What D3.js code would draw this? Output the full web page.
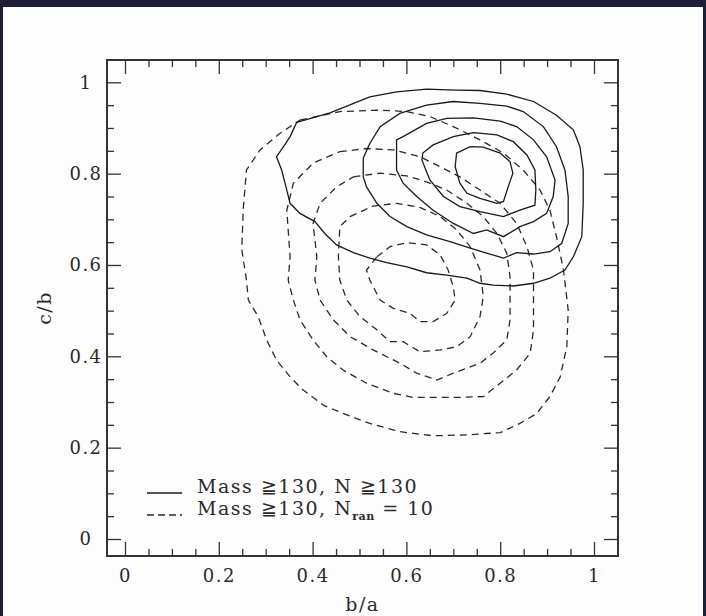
<!DOCTYPE html>
<html>
<head>
<meta charset="utf-8">
<script src="https://cdn.jsdelivr.net/npm/d3@7"></script>
<style>
	html, body { margin: 0; padding: 0; background: #1d1e38; }
	svg { display: block; }
	.axis text { font-family: 'DejaVu Serif', serif; font-size: 18px; letter-spacing: 1.5px; fill: #2a2a2a; }
	.axis line { stroke: #333; stroke-width: 1.3; }
	.axis path { display: none; }
	.solid { fill: none; stroke: #1a1a1a; stroke-width: 1.3; }
	.dashed { fill: none; stroke: #2a2a2a; stroke-width: 1.3; stroke-dasharray: 7,5; }
	.label { font-family: 'DejaVu Serif', serif; font-size: 19px; letter-spacing: 1.5px; fill: #2a2a2a; }
</style>
</head>
<body>
<svg width="706" height="616"></svg>
<script>
// x ticks / y ticks
const majorTicks = [0, 0.2, 0.4, 0.6, 0.8, 1];
const minorTicks = [0.05, 0.1, 0.15, 0.25, 0.3, 0.35, 0.45, 0.5, 0.55, 0.65, 0.7, 0.75, 0.85, 0.9, 0.95];
const tickLabels = ['0', '0.2', '0.4', '0.6', '0.8', '1'];

// Mass >= 130, N >= 130 (solid), outer -> inner, [b/a, c/b]
const solid1 = [[0.366, 0.912], [0.437, 0.933], [0.522, 0.968], [0.579, 0.979], [0.643, 0.985], [0.707, 0.983], [0.757, 0.982], [0.814, 0.974], [0.871, 0.958], [0.920, 0.928], [0.956, 0.896], [0.970, 0.859], [0.977, 0.808], [0.977, 0.735], [0.974, 0.662], [0.956, 0.618], [0.938, 0.589], [0.906, 0.571], [0.871, 0.560], [0.828, 0.554], [0.785, 0.556], [0.757, 0.560], [0.729, 0.571], [0.686, 0.578], [0.643, 0.583], [0.601, 0.596], [0.558, 0.605], [0.522, 0.615], [0.487, 0.627], [0.451, 0.644], [0.426, 0.669], [0.405, 0.695], [0.373, 0.713], [0.352, 0.735], [0.345, 0.764], [0.334, 0.808], [0.323, 0.837], [0.338, 0.859], [0.352, 0.881]];
const solid2 = [[0.508, 0.793], [0.508, 0.834], [0.522, 0.866], [0.544, 0.903], [0.586, 0.932], [0.643, 0.950], [0.700, 0.958], [0.757, 0.954], [0.814, 0.948], [0.849, 0.936], [0.892, 0.903], [0.920, 0.859], [0.938, 0.808], [0.945, 0.750], [0.945, 0.691], [0.931, 0.647], [0.906, 0.629], [0.871, 0.624], [0.835, 0.627], [0.807, 0.615], [0.771, 0.626], [0.736, 0.637], [0.693, 0.651], [0.643, 0.666], [0.601, 0.684], [0.565, 0.706], [0.537, 0.735], [0.515, 0.771]];
const solid3 = [[0.579, 0.808], [0.579, 0.874], [0.593, 0.881], [0.643, 0.910], [0.686, 0.921], [0.743, 0.922], [0.800, 0.915], [0.835, 0.903], [0.871, 0.874], [0.899, 0.837], [0.917, 0.786], [0.913, 0.750], [0.899, 0.713], [0.871, 0.695], [0.842, 0.684], [0.807, 0.662], [0.771, 0.677], [0.743, 0.669], [0.700, 0.691], [0.657, 0.720], [0.622, 0.750], [0.593, 0.779]];
const solid4 = [[0.633, 0.830], [0.635, 0.845], [0.657, 0.863], [0.700, 0.881], [0.743, 0.890], [0.793, 0.885], [0.828, 0.870], [0.857, 0.841], [0.874, 0.808], [0.876, 0.764], [0.874, 0.731], [0.842, 0.720], [0.807, 0.706], [0.757, 0.717], [0.714, 0.728], [0.679, 0.750], [0.650, 0.786]];
const solid5 = [[0.707, 0.845], [0.736, 0.859], [0.764, 0.858], [0.800, 0.845], [0.821, 0.826], [0.827, 0.801], [0.817, 0.771], [0.807, 0.739], [0.793, 0.735], [0.757, 0.746], [0.729, 0.757], [0.714, 0.779], [0.704, 0.815]];

// Mass >= 130, N_ran = 10 (dashed), outer -> inner
const dashed1 = [[0.373, 0.917], [0.458, 0.936], [0.544, 0.939], [0.601, 0.936], [0.650, 0.925], [0.700, 0.903], [0.757, 0.874], [0.807, 0.845], [0.849, 0.808], [0.885, 0.764], [0.906, 0.720], [0.920, 0.662], [0.935, 0.589], [0.945, 0.501], [0.942, 0.421], [0.928, 0.355], [0.906, 0.312], [0.878, 0.275], [0.842, 0.253], [0.800, 0.233], [0.729, 0.228], [0.657, 0.226], [0.586, 0.235], [0.522, 0.253], [0.465, 0.275], [0.423, 0.293], [0.380, 0.326], [0.352, 0.355], [0.323, 0.392], [0.302, 0.436], [0.284, 0.487], [0.263, 0.523], [0.259, 0.567], [0.249, 0.633], [0.252, 0.720], [0.259, 0.808], [0.288, 0.852], [0.330, 0.888]];
const dashed2 = [[0.458, 0.848], [0.515, 0.855], [0.572, 0.852], [0.629, 0.837], [0.672, 0.815], [0.714, 0.793], [0.757, 0.764], [0.800, 0.735], [0.835, 0.691], [0.857, 0.640], [0.871, 0.589], [0.871, 0.501], [0.871, 0.458], [0.864, 0.407], [0.835, 0.370], [0.800, 0.341], [0.764, 0.312], [0.714, 0.310], [0.657, 0.310], [0.615, 0.310], [0.572, 0.319], [0.515, 0.341], [0.465, 0.370], [0.430, 0.399], [0.401, 0.436], [0.373, 0.480], [0.359, 0.523], [0.348, 0.567], [0.352, 0.618], [0.345, 0.720], [0.359, 0.779], [0.401, 0.823]];
const dashed3 = [[0.487, 0.793], [0.544, 0.801], [0.601, 0.795], [0.643, 0.782], [0.686, 0.764], [0.729, 0.735], [0.764, 0.706], [0.793, 0.669], [0.814, 0.626], [0.821, 0.574], [0.821, 0.531], [0.821, 0.480], [0.814, 0.436], [0.785, 0.407], [0.757, 0.385], [0.700, 0.363], [0.665, 0.348], [0.622, 0.363], [0.586, 0.385], [0.529, 0.414], [0.480, 0.443], [0.444, 0.480], [0.416, 0.523], [0.405, 0.567], [0.409, 0.618], [0.401, 0.691], [0.416, 0.735], [0.451, 0.771]];
const dashed4 = [[0.480, 0.706], [0.529, 0.729], [0.579, 0.735], [0.629, 0.726], [0.672, 0.706], [0.707, 0.677], [0.736, 0.640], [0.757, 0.589], [0.764, 0.531], [0.757, 0.487], [0.736, 0.443], [0.707, 0.421], [0.672, 0.414], [0.629, 0.410], [0.593, 0.432], [0.565, 0.432], [0.537, 0.458], [0.501, 0.487], [0.473, 0.523], [0.458, 0.567], [0.455, 0.618], [0.458, 0.684]];
const dashed5 = [[0.537, 0.618], [0.565, 0.640], [0.601, 0.649], [0.643, 0.644], [0.672, 0.622], [0.689, 0.589], [0.700, 0.552], [0.704, 0.523], [0.686, 0.494], [0.657, 0.476], [0.629, 0.476], [0.608, 0.494], [0.572, 0.505], [0.544, 0.523], [0.522, 0.567], [0.515, 0.589]];

const solidLevels = [solid1, solid2, solid3, solid4, solid5];
const dashedLevels = [dashed1, dashed2, dashed3, dashed4, dashed5];

function init() {
	const svg = d3.select('svg');
	const frame = {left: 107, right: 618, top: 60, bottom: 556};

	// white page behind the plot
	svg.append('rect')
		.attr('x', 3)
		.attr('y', 7)
		.attr('width', 700)
		.attr('height', 609)
		.attr('fill', '#fdfdfd');

	const x = d3.scaleLinear().domain([0, 1]).range([125, 594]);
	const y = d3.scaleLinear().domain([0, 1]).range([539, 82.3]);

	const line = d3.line()
		.x(d => x(d[0]))
		.y(d => y(d[1]))
		.curve(d3.curveLinearClosed);

	const fmt = d => tickLabels[majorTicks.indexOf(d)];

	// major ticks + labels on bottom / left
	svg.append('g')
		.attr('class', 'axis axis--x')
		.attr('transform', 'translate(0,' + frame.bottom + ')')
		.call(d3.axisBottom(x).tickValues(majorTicks).tickSize(-14).tickPadding(13).tickFormat(fmt));

	svg.append('g')
		.attr('class', 'axis axis--y')
		.attr('transform', 'translate(' + frame.left + ',0)')
		.call(d3.axisLeft(y).tickValues(majorTicks).tickSize(-14).tickFormat(fmt))
		.selectAll('text')
		.attr('x', -21)
		.style('text-anchor', 'middle');

	// major ticks on top / right, no labels
	svg.append('g')
		.attr('class', 'axis')
		.attr('transform', 'translate(0,' + frame.top + ')')
		.call(d3.axisTop(x).tickValues(majorTicks).tickSize(-14).tickFormat(''));

	svg.append('g')
		.attr('class', 'axis')
		.attr('transform', 'translate(' + frame.right + ',0)')
		.call(d3.axisRight(y).tickValues(majorTicks).tickSize(-14).tickFormat(''));

	// minor ticks on all four sides
	svg.append('g')
		.attr('class', 'axis')
		.attr('transform', 'translate(0,' + frame.bottom + ')')
		.call(d3.axisBottom(x).tickValues(minorTicks).tickSize(-7).tickFormat(''));
	svg.append('g')
		.attr('class', 'axis')
		.attr('transform', 'translate(0,' + frame.top + ')')
		.call(d3.axisTop(x).tickValues(minorTicks).tickSize(-7).tickFormat(''));
	svg.append('g')
		.attr('class', 'axis')
		.attr('transform', 'translate(' + frame.left + ',0)')
		.call(d3.axisLeft(y).tickValues(minorTicks).tickSize(-7).tickFormat(''));
	svg.append('g')
		.attr('class', 'axis')
		.attr('transform', 'translate(' + frame.right + ',0)')
		.call(d3.axisRight(y).tickValues(minorTicks).tickSize(-7).tickFormat(''));

	svg.append('rect')
		.attr('x', frame.left)
		.attr('y', frame.top)
		.attr('width', frame.right - frame.left)
		.attr('height', frame.bottom - frame.top)
		.attr('fill', 'none')
		.attr('stroke', '#333')
		.attr('stroke-width', 2);

	// contours
	svg.append('g').selectAll('path')
		.data(dashedLevels)
		.join('path')
		.attr('class', 'dashed')
		.attr('d', line);

	svg.append('g').selectAll('path')
		.data(solidLevels)
		.join('path')
		.attr('class', 'solid')
		.attr('d', line);

	// axis titles
	svg.append('text')
		.attr('class', 'label')
		.attr('x', (frame.left + frame.right) / 2)
		.attr('y', 611)
		.style('text-anchor', 'middle')
		.text('b/a');

	svg.append('text')
		.attr('class', 'label')
		.attr('transform', 'translate(51,' + (frame.top + frame.bottom) / 2 + ') rotate(-90)')
		.style('text-anchor', 'middle')
		.text('c/b');

	// legend
	const legend = svg.append('g').attr('class', 'legend');
	legend.append('line')
		.attr('class', 'solid')
		.attr('x1', 147).attr('x2', 182)
		.attr('y1', 493).attr('y2', 493);
	legend.append('line')
		.attr('class', 'dashed')
		.style('stroke-dasharray', '7,4')
		.attr('x1', 147).attr('x2', 182)
		.attr('y1', 515).attr('y2', 515);

	legend.append('text')
		.attr('class', 'label')
		.attr('x', 197)
		.attr('y', 493)
		.text('Mass \u2267130, N \u2267130');

	const t2 = legend.append('text')
		.attr('class', 'label')
		.attr('x', 197)
		.attr('y', 515);
	t2.append('tspan').text('Mass \u2267130, N');
	t2.append('tspan')
		.attr('dy', 5)
		.style('font-size', '11px')
		.style('letter-spacing', '0.5px')
		.style('font-weight', 'bold')
		.text('ran');
	t2.append('tspan')
		.attr('dy', -5)
		.text(' = 10');
}

init();
</script>
</body>
</html>
